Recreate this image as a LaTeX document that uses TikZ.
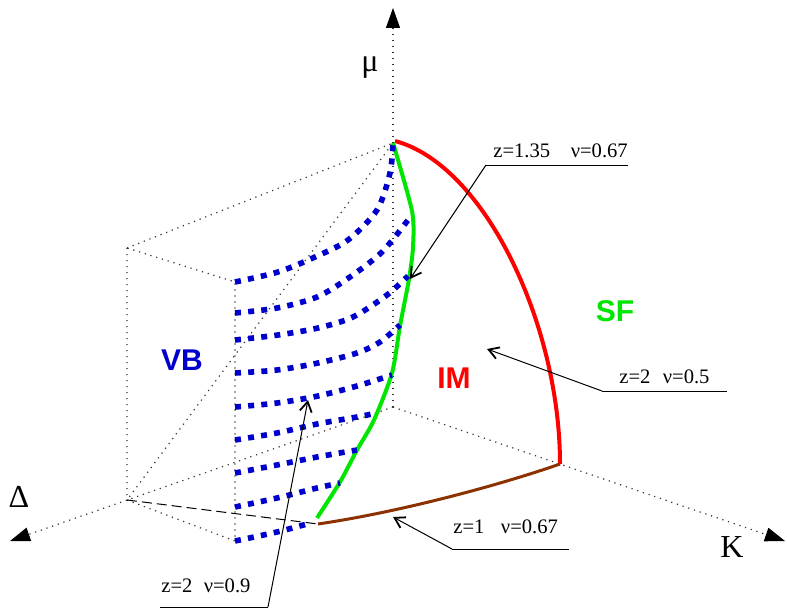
\documentclass[tikz,border=0pt]{standalone}
\usepackage{fontspec}
\setmainfont{Liberation Serif}
\newfontfamily\regionfont{Liberation Sans}
\usepackage{xcolor}
\usetikzlibrary{arrows.meta}

\definecolor{vbblue}{RGB}{0,0,205}
\definecolor{sfgreen}{RGB}{0,230,0}
\definecolor{imred}{RGB}{255,0,0}
\definecolor{zbrown}{RGB}{140,50,0}

\begin{document}
\begin{tikzpicture}[x=0.5pt, y=-0.5pt,
  axisdot/.style={black!80, line width=0.6pt, dash pattern=on 0.6pt off 2.4pt},
  axisarrow/.style={-{Triangle[length=10pt,width=7pt,black]}},
  vbcurve/.style={vbblue, line width=2.8pt, dash pattern=on 3pt off 3.6pt},
  leader/.style={line width=0.5pt, -{Straight Barb[length=5pt,width=6pt,line width=0.9pt]}},
  fieldtext/.style={font=\fontsize{10.3}{12}\selectfont, anchor=base west, inner sep=0pt},
  axistext/.style={font=\fontsize{16}{19}\selectfont, anchor=base, inner sep=0pt},
  regiontext/.style={font=\regionfont\bfseries\fontsize{15}{18}\selectfont, inner sep=0pt}]
  \useasboundingbox (0,0) rectangle (787,610);

  % Corners of the box and ends of the axes
  \coordinate (O) at (393,407);
  \coordinate (Top) at (393,143);
  \coordinate (MuTip) at (393,8);
  \coordinate (KTip) at (785,541);
  \coordinate (DTip) at (10,541);
  \coordinate (BackTop) at (127,248);
  \coordinate (BackBot) at (127,500);
  \coordinate (FrontTop) at (235,282);
  \coordinate (FrontBot) at (235,541);
  \coordinate (Foot) at (318,524);
  \coordinate (RedTop) at (395,141);
  \coordinate (RedBot) at (560,464);

  % Axes
  \draw[axisdot, axisarrow] (O) -- (MuTip);
  \draw[axisdot, axisarrow] (O) -- (KTip);
  \draw[axisdot, axisarrow] (O) -- (DTip);
  \node[axistext] (mu) at (370,72) {μ};
  \node[axistext] (kay) at (732,557) {K};
  \node[axistext] (delta) at (19,507) {Δ};

  % Box
  \draw[axisdot] (BackTop) -- (BackBot) -- (FrontBot) -- (FrontTop) -- cycle;
  \draw[axisdot] (BackTop) -- (Top) -- (BackBot);
  \draw[line width=0.5pt, dash pattern=on 5pt off 2.5pt] (BackBot) -- (Foot);

  % Phase boundaries
  \draw[imred, line width=2pt] (RedTop) .. controls (485,165) and (560,325) .. (RedBot);
  \draw[zbrown, line width=1.5pt] (Foot) .. controls (400,512) and (500,485) .. (RedBot);
  \draw[sfgreen, line width=2pt] plot[smooth, tension=0.45] coordinates {(393,143) (412,211) (413,247) (409,279) (400,326) (392,373) (374,420) (357,450) (340,482) (317,518)};

  % VB lines
  \draw[vbcurve] plot[smooth] coordinates {(235,282) (278,272) (315,257) (348,240) (377,210) (390,173) (393,143)};
  \draw[vbcurve] plot[smooth] coordinates {(235,313) (277,308) (317,297) (350,277) (382,252) (408,220)};
  \draw[vbcurve] plot[smooth] coordinates {(235,340) (278,335) (318,328) (353,317) (387,295) (408,276)};
  \draw[vbcurve] plot[smooth] coordinates {(235,373) (277,370) (318,363) (357,353) (380,342) (400,325)};
  \draw[vbcurve] plot[smooth] coordinates {(235,407) (277,403) (318,396) (357,386) (392,375)};
  \draw[vbcurve] plot[smooth] coordinates {(235,440) (277,433) (317,424) (357,417) (372,414)};
  \draw[vbcurve] plot[smooth] coordinates {(235,473) (277,465) (317,457) (357,450)};
  \draw[vbcurve] plot[smooth] coordinates {(235,507) (277,498) (317,488) (340,483)};
  \draw[vbcurve] plot[smooth] coordinates {(235,541) (277,532) (307,524)};

  % Region names
  \node[regiontext, text=vbblue] (vb) at (182,360) {VB};
  \node[regiontext, text=imred] (im) at (454,378) {IM};
  \node[regiontext, text=sfgreen] (sf) at (615,311) {SF};

  % Exponent labels
  \node[fieldtext] (lab1) at (493,157) {z=1.35\quad ν=0.67};
  \coordinate (elb1) at (486,165);
  \coordinate (end1) at (628,165);
  \coordinate (tip1) at (410,279);
  \draw[line width=0.5pt] (elb1) -- (end1);
  \draw[leader] (elb1) -- (tip1);

  \node[fieldtext] (lab2) at (619,383) {z=2\hspace{0.6em}ν=0.5};
  \coordinate (elb2) at (602,391);
  \coordinate (end2) at (727,391);
  \coordinate (tip2) at (487,349);
  \draw[line width=0.5pt] (elb2) -- (end2);
  \draw[leader] (elb2) -- (tip2);

  \node[fieldtext] (lab3) at (453,533) {z=1\hspace{0.8em}ν=0.67};
  \coordinate (elb3) at (452,549);
  \coordinate (end3) at (569,549);
  \coordinate (tip3) at (393,517);
  \draw[line width=0.5pt] (elb3) -- (end3);
  \draw[leader] (elb3) -- (tip3);

  \node[fieldtext] (lab4) at (161,592) {z=2\hspace{0.55em}ν=0.9};
  \coordinate (elb4) at (268,607);
  \coordinate (end4) at (160,607);
  \coordinate (tip4) at (308,400);
  \draw[line width=0.5pt] (elb4) -- (end4);
  \draw[leader] (elb4) -- (tip4);
\end{tikzpicture}
\end{document}
